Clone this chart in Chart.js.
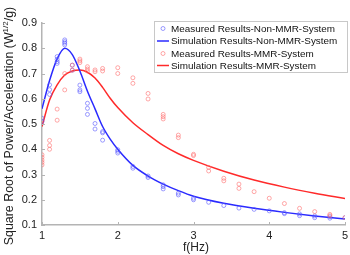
<!DOCTYPE html>
<html>
<head>
<meta charset="utf-8">
<script src="https://cdn.jsdelivr.net/npm/chart.js@4/dist/chart.umd.min.js"></script>
<style>
  html, body { margin: 0; padding: 0; background: #fff; overflow: hidden; }
  canvas { display: block; }
</style>
</head>
<body>
<canvas id="chart" width="350" height="255"></canvas>
<script>
/* datos medidos - sistema sin MMR (azul) */
const nonMmrMeasF = [1.0,1.0, 1.1,1.1,1.1, 1.2,1.2,1.2,1.2, 1.3,1.3,1.3,1.3, 1.4,1.4, 1.5,1.5,1.5,
  1.6,1.6,1.6, 1.7,1.7, 1.8,1.8,1.8, 2.0,2.0,2.0, 2.2,2.2, 2.4,2.4, 2.6,2.6,2.6, 2.8,2.8, 3.0,3.0,
  3.2, 3.4, 3.6, 3.8, 4.0, 4.2,4.2, 4.4,4.4, 4.6,4.6, 4.8,4.8, 5.0]
const nonMmrMeasV = [0.523,0.51, 0.655,0.636,0.617, 0.767,0.756,0.747,0.74, 0.833,0.826,0.82,0.813, 0.733,0.713,
  0.654,0.635,0.628, 0.582,0.562,0.538, 0.502,0.48, 0.47,0.465,0.436, 0.398,0.392,0.385, 0.332,0.325,
  0.294,0.288, 0.259,0.252,0.243, 0.226,0.219, 0.206,0.2, 0.19, 0.177, 0.167, 0.162, 0.156, 0.149,0.145,
  0.144,0.137, 0.136,0.129, 0.133,0.127, 0.129]

/* datos medidos - sistema MMR (rojo) */
const mmrMeasF = [1.0,1.0,1.0,1.0,1.0, 1.1,1.1,1.1, 1.2,1.2, 1.3,1.3, 1.4,1.4, 1.5,1.5,1.5, 1.6,1.6,1.6,
  1.7,1.7, 1.8,1.8, 2.0,2.0, 2.2,2.2, 2.4,2.4, 2.6,2.6,2.6, 2.8,2.8, 3.0,3.0, 3.2,3.2, 3.4,3.4, 3.6,3.6,
  3.8, 4.0, 4.2, 4.4, 4.6, 4.8,4.8, 5.0]
const mmrMeasV = [0.378,0.368,0.357,0.348,0.338, 0.435,0.415,0.40, 0.559,0.515, 0.70,0.635, 0.733,0.713,
  0.757,0.75,0.743, 0.727,0.718,0.71, 0.714,0.707, 0.72,0.71, 0.723,0.70, 0.683,0.661, 0.621,0.599,
  0.538,0.529,0.52, 0.456,0.446, 0.38,0.375, 0.328,0.314, 0.285,0.275, 0.262,0.245,
  0.232, 0.206, 0.185, 0.166, 0.153, 0.142,0.137, 0.129]

/* curvas de simulacion */
const simF = [1.0,1.1,1.2,1.3,1.4,1.5,1.6,1.7,1.8,1.9,2.0,2.2,2.4,2.6,2.8,3.0,3.4,3.8,4.2,4.6,5.0]
const nonMmrSim = [0.56,0.672,0.758,0.80,0.775,0.71,0.63,0.56,0.49,0.44,0.40,0.336,0.294,0.262,0.236,0.214,0.186,0.166,0.15,0.136,0.124]
const mmrSim = [0.49,0.595,0.655,0.694,0.71,0.714,0.705,0.682,0.645,0.602,0.565,0.505,0.458,0.415,0.382,0.356,0.313,0.278,0.25,0.226,0.205]

const xTicks = [1,2,3,4,5]
const yTicks = [0.1,0.2,0.3,0.4,0.5,0.6,0.7,0.8,0.9]

const legendLabels = [
  "Measured Results-Non-MMR-System",
  "Simulation Results-Non-MMR-System",
  "Measured Results-MMR-System",
  "Simulation Results-MMR-System"
]

const toPts = (xs, ys) => xs.map((x, i) => ({ x: x, y: ys[i] }))

const FONT = "'Liberation Sans', Arial, Helvetica, sans-serif"
const blueDot = "rgba(90,90,255,0.6)"
const redDot = "rgba(255,110,110,0.6)"
const blueLine = "#2a2aff"
const redLine = "#ff2a2a"
const axisGray = "#b4b4b4"

/* titulos, leyenda y marcas hacia dentro */
const extras = {
  id: "extras",
  afterDraw(chart) {
    const ctx = chart.ctx
    const a = chart.chartArea
    const xs = chart.scales.x, ys = chart.scales.y
    ctx.save()
    // ticks hacia dentro
    ctx.strokeStyle = axisGray
    ctx.lineWidth = 1
    xTicks.forEach(t => {
      const px = Math.round(xs.getPixelForValue(t)) + 0.5
      ctx.beginPath(); ctx.moveTo(px, a.bottom); ctx.lineTo(px, a.bottom - 3); ctx.stroke()
    })
    yTicks.forEach(t => {
      const py = Math.round(ys.getPixelForValue(t)) + 0.5
      ctx.beginPath(); ctx.moveTo(a.left, py); ctx.lineTo(a.left + 3, py); ctx.stroke()
    })

    // titulo eje x
    ctx.fillStyle = "#222"
    ctx.font = "12px " + FONT
    ctx.textAlign = "center"
    ctx.textBaseline = "middle"
    ctx.fillText("f(Hz)", 196, 248)

    // titulo eje y con superindice
    const main = "Square Root of Power/Acceleration (W"
    const sup = "1/2"
    const tail = "/g)"
    ctx.font = "12.4px " + FONT
    const w1 = ctx.measureText(main).width
    const w3 = ctx.measureText(tail).width
    ctx.font = "8px " + FONT
    const w2 = ctx.measureText(sup).width
    const total = w1 + w2 + w3
    ctx.translate(10, 126)
    ctx.rotate(-Math.PI / 2)
    ctx.textAlign = "left"
    ctx.textBaseline = "middle"
    let x0 = -total / 2
    ctx.font = "12.4px " + FONT
    ctx.fillText(main, x0, 0)
    ctx.font = "8px " + FONT
    ctx.fillText(sup, x0 + w1, -4)
    ctx.font = "12.4px " + FONT
    ctx.fillText(tail, x0 + w1 + w2, 0)
    ctx.setTransform(1, 0, 0, 1, 0, 0)

    // leyenda
    const bx = 154.5, by = 21.5, bw = 193, bh = 51
    ctx.fillStyle = "#fff"
    ctx.fillRect(bx, by, bw, bh)
    ctx.strokeStyle = "#c8c8c8"
    ctx.lineWidth = 1
    ctx.strokeRect(bx, by, bw, bh)
    const rows = [28.5, 41, 53.5, 65.5]
    ctx.font = "9.9px " + FONT
    ctx.textAlign = "left"
    ctx.textBaseline = "middle"
    rows.forEach((ry, i) => {
      const isLine = i % 2 === 1
      const col = i < 2 ? (isLine ? blueLine : blueDot) : (isLine ? redLine : redDot)
      if (isLine) {
        ctx.strokeStyle = col; ctx.lineWidth = 1.5
        ctx.beginPath(); ctx.moveTo(157, ry); ctx.lineTo(169, ry); ctx.stroke()
      } else {
        ctx.strokeStyle = col; ctx.lineWidth = 1
        ctx.beginPath(); ctx.arc(163, ry, 2, 0, Math.PI * 2); ctx.stroke()
      }
      ctx.fillStyle = "#111"
      ctx.fillText(legendLabels[i], 171, ry + 0.5)
    })
    ctx.restore()
  }
}

const contenedor = document.querySelector("#chart").getContext("2d")

const grafico = new Chart(contenedor, {
  type: "scatter",
  data: {
    datasets: [
      {
        label: legendLabels[2],
        data: toPts(mmrMeasF, mmrMeasV),
        borderColor: redDot,
        backgroundColor: "rgba(0,0,0,0)",
        pointRadius: 2,
        borderWidth: 1
      },
      {
        label: legendLabels[0],
        data: toPts(nonMmrMeasF, nonMmrMeasV),
        borderColor: blueDot,
        backgroundColor: "rgba(0,0,0,0)",
        pointRadius: 2,
        borderWidth: 1
      },
      {
        label: legendLabels[1],
        data: toPts(simF, nonMmrSim),
        showLine: true,
        borderColor: blueLine,
        borderWidth: 1.5,
        pointRadius: 0,
        cubicInterpolationMode: "monotone"
      },
      {
        label: legendLabels[3],
        data: toPts(simF, mmrSim),
        showLine: true,
        borderColor: redLine,
        borderWidth: 1.5,
        pointRadius: 0,
        cubicInterpolationMode: "monotone"
      }
    ]
  },
  options: {
    responsive: false,
    animation: false,
    devicePixelRatio: 1,
    layout: { padding: { left: 0, right: 2, top: 23, bottom: 0 } },
    plugins: { legend: { display: false }, tooltip: { enabled: false } },
    scales: {
      x: {
        type: "linear",
        min: 1, max: 5,
        afterFit(s) { s.height = 30; s.paddingLeft = 0; s.paddingRight = 0 },
        afterBuildTicks(s) { s.ticks = xTicks.map(v => ({ value: v })) },
        grid: { display: false, drawTicks: false },
        border: { display: true, color: axisGray, width: 1.5 },
        ticks: { color: "#222", font: { family: FONT, size: 11 }, padding: 4, maxRotation: 0,
          callback: v => String(v) }
      },
      y: {
        type: "linear",
        min: 0.1, max: 0.9,
        afterFit(s) { s.width = 42; s.paddingTop = 0; s.paddingBottom = 0 },
        afterBuildTicks(s) { s.ticks = yTicks.map(v => ({ value: v })) },
        grid: { display: false, drawTicks: false },
        border: { display: true, color: axisGray, width: 1.5 },
        ticks: { color: "#222", font: { family: FONT, size: 11 }, padding: 5,
          callback: v => Number(v).toFixed(1) }
      }
    }
  },
  plugins: [extras]
})
</script>
</body>
</html>
